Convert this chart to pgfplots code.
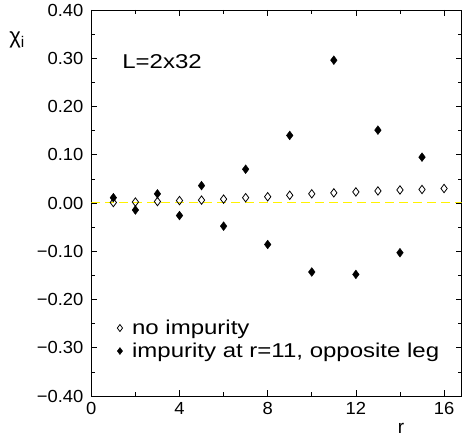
\documentclass[border=0pt]{standalone}
\usepackage{pgfplots}
\pgfplotsset{compat=1.18}
\usepackage{fontspec}
\setmainfont{Liberation Sans}
\newcommand\tl{\fontsize{17.5}{17.5}\selectfont}
\begin{document}
\begin{tikzpicture}[x=1pt,y=1pt]
\useasboundingbox (0,0) rectangle (466,436);
\begin{axis}[
 at={(91.3pt,40pt)}, anchor=south west,
 scale only axis, width=370.4pt, height=386pt,
 xmin=0, xmax=16.8, ymin=-0.4, ymax=0.4,
 xtick={0,4,8,12,16}, minor xtick={2,6,10,14},
 ytick={-0.4,-0.3,-0.2,-0.1,0,0.1,0.2,0.3,0.4},
 yticklabels={{\tl −0.40},{\tl −0.30},{\tl −0.20},{\tl −0.10},{\tl 0.00},{\tl 0.10},{\tl 0.20},{\tl 0.30},{\tl 0.40}},
 minor ytick={-0.35,-0.25,-0.15,-0.05,0.05,0.15,0.25,0.35},
 xticklabels={{\tl 0},{\tl 4},{\tl 8},{\tl 12},{\tl 16}},
 tick align=inside, major tick length=6pt, minor tick length=4pt,
 tick style={black, line width=0.6pt},
 axis line style={line width=0.8pt},
 tick label style={xscale=1.05},
 xticklabel style={yshift=-3pt},
 yticklabel style={xshift=-4pt},
 legend style={draw=none, fill=none, at={(axis cs:1.1,-0.283)}, anchor=west,
   font=\fontsize{20}{20}\selectfont, row sep=7pt, inner sep=0pt,
   nodes={inner sep=0pt, xscale=1.2}, legend cell align=left},
 legend image code/.code={\draw[#1, mark size=3.5pt] plot coordinates {(0,0)}; \path (-4pt,0) (12pt,0);},
]
\addplot[yellow, dash pattern=on 9pt off 5pt, line width=1pt, forget plot] coordinates {(0,0) (16.8,0)};
\addplot[only marks, mark=diamond, mark options={fill=white, line width=0.8pt}, mark size=4.2pt, black]
 coordinates {(1,0.001) (2,0.002) (3,0.003) (4,0.005) (5,0.006) (6,0.008) (7,0.011) (8,0.013)
 (9,0.016) (10,0.019) (11,0.021) (12,0.023) (13,0.025) (14,0.027) (15,0.028) (16,0.030)};
\addlegendentry{no impurity}
\addplot[only marks, mark=diamond*, mark size=4.4pt, black]
 coordinates {(1,0.011) (2,-0.0145) (3,0.019) (4,-0.026) (5,0.036) (6,-0.048) (7,0.070) (8,-0.086)
 (9,0.140) (10,-0.143) (11,0.296) (12,-0.148) (13,0.151) (14,-0.103) (15,0.095)};
\addlegendentry{impurity at r=11, opposite leg}
\node[font=\fontsize{20}{20}\selectfont, xscale=1.2] at (axis cs:3.21,0.292) {L=2x32};
\end{axis}
\node[font=\fontsize{22}{22}\selectfont] at (17,396) {χ\textsubscript{i}};
\node[font=\fontsize{19}{19}\selectfont] at (401,8) {r};
\end{tikzpicture}
\end{document}
